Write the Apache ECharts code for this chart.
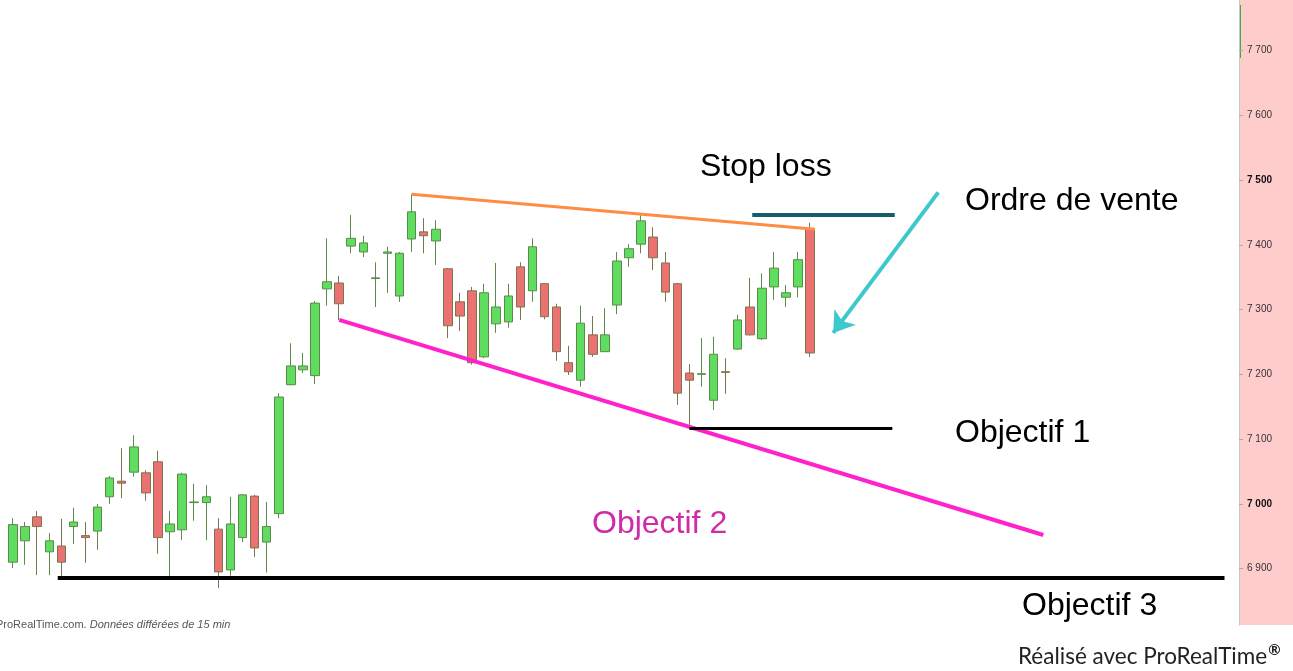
<!DOCTYPE html>
<html lang="fr">
<head>
    <meta charset="UTF-8">
    <title>Biseau descendant - ProRealTime</title>
    <script src="https://cdn.jsdelivr.net/npm/echarts@6/dist/echarts.min.js"></script>
    <style>
        html, body { margin: 0; padding: 0; background: #fff; }
        #chart { width: 1293px; height: 671px; }
    </style>
</head>
<body>
    <div id="chart"></div>
    <script>
        // bougies (15 min)
        const categories = Array.from({ length: 102 }, (_, i) => String(i + 1));
        const opens = [
            6910, 6943, 6980, 6926, 6935, 6965, 6951, 6958, 7011, 7035,
            7049, 7048, 7065, 6957, 6960, 7002, 7002, 6961, 6898, 6948,
            7012, 6941, 6985, 7184, 7207, 7198, 7332, 7341, 7398, 7389,
            7348, 7387, 7321, 7409, 7420, 7406, 7363, 7312, 7329, 7227,
            7278, 7281, 7366, 7329, 7340, 7304, 7218, 7191, 7261, 7235,
            7307, 7380, 7401, 7412, 7372, 7340, 7202, 7200, 7160, 7204,
            7239, 7304, 7255, 7335, 7319, 7335, 7424
        ];
        const closes = [
            6968, 6965, 6965, 6943, 6910, 6972, 6948, 6995, 7040, 7032,
            7088, 7017, 6948, 6969, 7046, 7003, 7011, 6895, 6969, 7014,
            6932, 6965, 7165, 7213, 7213, 7310, 7343, 7309, 7410, 7403,
            7349, 7389, 7387, 7451, 7414, 7424, 7275, 7290, 7218, 7326,
            7304, 7321, 7304, 7397, 7289, 7235, 7204, 7279, 7231, 7261,
            7375, 7394, 7437, 7380, 7327, 7171, 7191, 7201, 7231, 7203,
            7284, 7261, 7333, 7364, 7326, 7377, 7233
        ];
        const lows = [
            6901, 6906, 6890, 6890, 6886, 6938, 6909, 6929, 7000, 7009,
            7042, 7005, 6923, 6886, 6944, 6974, 6944, 6870, 6889, 6941,
            6918, 6894, 6978, 7183, 7202, 7185, 7306, 7284, 7387, 7381,
            7304, 7326, 7312, 7389, 7387, 7369, 7256, 7267, 7215, 7225,
            7264, 7272, 7284, 7312, 7285, 7221, 7199, 7181, 7227, 7235,
            7293, 7366, 7387, 7361, 7312, 7153, 7117, 7181, 7145, 7170,
            7238, 7260, 7253, 7315, 7304, 7319, 7227
        ];
        const highs = [
            6978, 6972, 6989, 6955, 6977, 6994, 6972, 7000, 7043, 7086,
            7106, 7052, 7082, 6989, 7048, 7031, 7029, 6978, 7011, 7015,
            7014, 7003, 7171, 7248, 7233, 7313, 7410, 7352, 7446, 7414,
            7373, 7397, 7389, 7478, 7441, 7438, 7364, 7326, 7335, 7340,
            7372, 7340, 7373, 7410, 7341, 7309, 7244, 7306, 7290, 7302,
            7389, 7401, 7446, 7427, 7389, 7341, 7216, 7256, 7258, 7225,
            7292, 7349, 7356, 7389, 7338, 7389, 7434
        ];
        const priceTicks = [6900, 7000, 7100, 7200, 7300, 7400, 7500, 7600, 7700];

        // lignes tracées (x = position en barres, y = cours)
        const resistanceLine = [[33.5, 7478], [66.9, 7424]];
        const supportLine = [[27.5, 7284], [85.8, 6952]];
        const stopLossLine = [[61.7, 7447], [73.5, 7447]];
        const objectif1Line = [[56.5, 7117], [73.3, 7117]];
        const objectif3Line = [[4.2, 6886], [100.8, 6886]];
        const arrowLine = [[77.1, 7481], [68.4, 7264]];

        const candles = opens.map((o, i) => [o, closes[i], lows[i], highs[i]]);

        function seg(pts, color, width, arrow) {
            return [
                { coord: pts[0], symbol: 'none', lineStyle: { color: color, width: width, type: 'solid' } },
                { coord: pts[1], symbol: arrow ? 'arrow' : 'none', symbolSize: arrow ? 20 : 0 }
            ];
        }

        const chart = echarts.init(document.getElementById('chart'));
        const txtFont = '32px "Liberation Sans", Arial, sans-serif';

        chart.setOption({
            animation: false,
            backgroundColor: '#fff',
            grid: { left: 7, right: 54, top: 0, bottom: 46 },
            xAxis: [
                {
                    type: 'category', data: categories, boundaryGap: true,
                    axisLine: { show: false }, axisTick: { show: false },
                    axisLabel: { show: false }, splitLine: { show: false }
                },
                {
                    type: 'value', min: 0, max: categories.length, show: false
                }
            ],
            yAxis: {
                type: 'value', position: 'right', scale: true,
                min: 6813, max: 7778,
                axisLine: { show: true, onZero: false, lineStyle: { color: '#c8c8c8', width: 1 } },
                axisTick: {
                    show: true, length: 4, lineStyle: { color: '#aaa' },
                    customValues: priceTicks
                },
                splitLine: { show: false },
                axisLabel: {
                    margin: 8, fontSize: 10, color: '#333',
                    fontFamily: '"Liberation Sans", Arial, sans-serif',
                    customValues: priceTicks,
                    formatter: v => {
                        const s = String(v).replace(/^(\d)(\d{3})$/, '$1 $2');
                        return v % 500 === 0 ? '{b|' + s + '}' : s;
                    },
                    rich: { b: { fontWeight: 'bold', fontSize: 10, color: '#111' } }
                }
            },
            graphic: [
                { type: 'rect', z: -10, silent: true, shape: { x: 1240, y: 0, width: 53, height: 625 }, style: { fill: '#ffcccc' } },
                { type: 'rect', silent: true, shape: { x: 1239, y: 5, width: 2, height: 53 }, style: { fill: '#3fae3f' } },
                { type: 'text', silent: true, style: { text: 'Stop loss', x: 700, y: 167, verticalAlign: 'middle', font: txtFont, fill: '#000' } },
                { type: 'text', silent: true, style: { text: 'Ordre de vente', x: 965, y: 201, verticalAlign: 'middle', font: txtFont, fill: '#000' } },
                { type: 'text', silent: true, style: { text: 'Objectif 1', x: 955, y: 433, verticalAlign: 'middle', font: txtFont, fill: '#000' } },
                { type: 'text', silent: true, style: { text: 'Objectif 2', x: 592, y: 524, verticalAlign: 'middle', font: txtFont, fill: '#d02aa8' } },
                { type: 'text', silent: true, style: { text: 'Objectif 3', x: 1022, y: 606, verticalAlign: 'middle', font: txtFont, fill: '#000' } },
                {
                    type: 'text', silent: true,
                    style: {
                        text: '{n|ProRealTime.com. }{i|Données différées de 15 min}', x: -4, y: 625,
                        verticalAlign: 'middle',
                        rich: {
                            n: { fontSize: 11, fontFamily: '"Liberation Sans", Arial', fill: '#555' },
                            i: { fontSize: 11, fontStyle: 'italic', fontFamily: '"Liberation Sans", Arial', fill: '#555' }
                        }
                    }
                },
                {
                    type: 'text', silent: true,
                    style: {
                        text: '{t|Réalisé avec ProRealTime}{r|®}', x: 1018, y: 657,
                        verticalAlign: 'middle',
                        rich: {
                            t: { fontSize: 22.5, fontFamily: 'Lato, "Open Sans", sans-serif', fill: '#222' },
                            r: { fontSize: 15, fontWeight: 'bold', fontFamily: 'Lato, sans-serif', fill: '#222', verticalAlign: 'top', padding: [0, 0, 14, 1] }
                        }
                    }
                }
            ],
            series: [
                {
                    name: 'Cours',
                    type: 'candlestick',
                    xAxisIndex: 0,
                    data: candles,
                    barWidth: 9,
                    itemStyle: {
                        color: '#5fdd5f',
                        color0: '#ec7272',
                        borderColor: '#5b8a4b',
                        borderColor0: '#7c7350',
                        borderWidth: 1
                    }
                },
                {
                    name: 'Lignes',
                    type: 'line',
                    xAxisIndex: 1,
                    data: [],
                    markLine: {
                        silent: true,
                        animation: false,
                        label: { show: false },
                        emphasis: { disabled: true },
                        data: [
                            seg(objectif3Line, '#000', 4),
                            seg(supportLine, '#ff22cc', 4),
                            seg(resistanceLine, '#ff8c42', 3),
                            seg(stopLossLine, '#155e6c', 4),
                            seg(objectif1Line, '#000', 3),
                            seg(arrowLine, '#3cc8cc', 4, true)
                        ]
                    }
                }
            ]
        });
    </script>
</body>
</html>
